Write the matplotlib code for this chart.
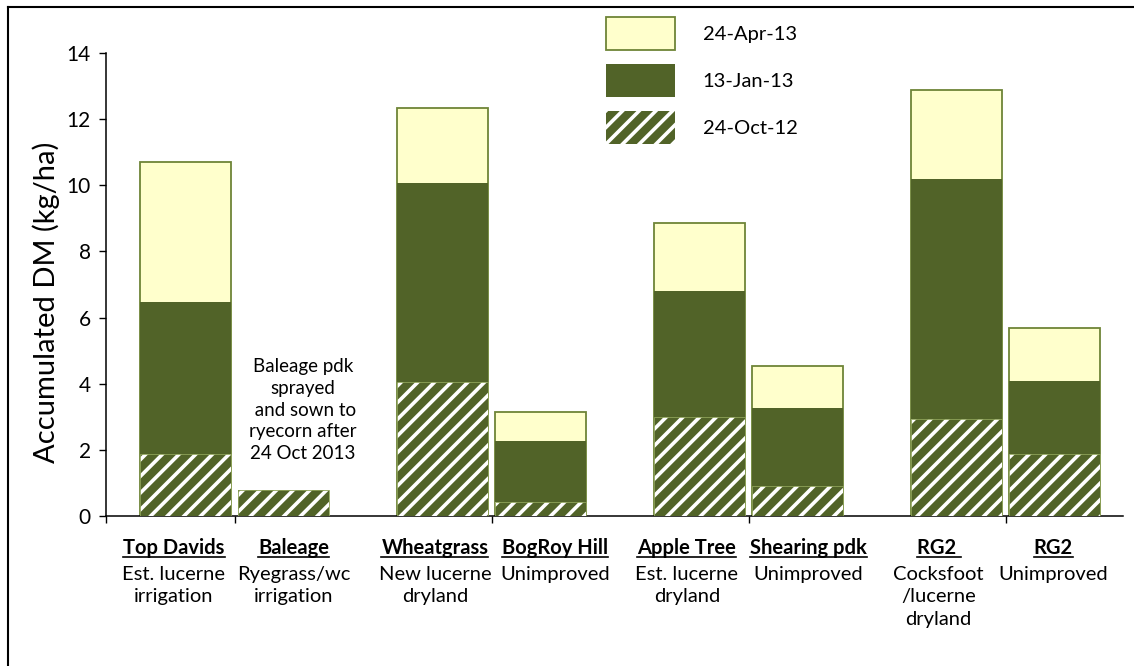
import matplotlib
matplotlib.use("Agg")
import matplotlib.pyplot as plt
from matplotlib.patches import Patch
from matplotlib.lines import Line2D
import numpy as np

plt.rcParams['font.family'] = ['Lato', 'DejaVu Sans']
plt.rcParams['hatch.linewidth'] = 2.6

# data (accumulated DM at each date)
names = ["Top Davids", "Baleage", "Wheatgrass", "BogRoy Hill",
         "Apple Tree", "Shearing pdk", "RG2 ", "RG2"]
descs = ["Est. lucerne\nirrigation", "Ryegrass/wc\nirrigation",
         "New lucerne\ndryland", "Unimproved",
         "Est. lucerne\ndryland", "Unimproved",
         "Cocksfoot\n/lucerne\ndryland", "Unimproved"]
oct12 = [1.88, 0.80, 4.04, 0.43, 2.98, 0.92, 2.92, 1.88]
jan13 = [6.47, 0.0, 10.06, 2.27, 6.80, 3.26, 10.20, 4.07]
apr13 = [10.70, 0.0, 12.33, 3.15, 8.85, 4.55, 12.88, 5.69]
series_labels = ["24-Apr-13", "13-Jan-13", "24-Oct-12"]

# label block nudges from the bar centres (axis units)
label_shift = [-0.046, 0.04, -0.03, 0.058, -0.05, 0.043, -0.07, -0.004]

light = "#FFFFCC"
dark = "#516328"
edge = "#6E8537"

fig = plt.figure(figsize=(11.34, 6.66), dpi=100)
ax = fig.add_axes([106/1134, 1-516/666, (1123-106)/1134, (516-53)/666])

# bar positions: pairs around group centres
grp = np.repeat(np.arange(4) + 0.5, 2)
off = np.tile([-0.19, 0.19], 4)
xpos = grp + off
w = 0.355

ax.bar(xpos, apr13, w, color=light, edgecolor=edge, linewidth=1.3, zorder=2)
ax.bar(xpos, jan13, w, color=dark, linewidth=0, zorder=3)
ax.bar(xpos, oct12, w, color=dark, edgecolor="white", hatch="//",
       linewidth=0, zorder=4)
ax.bar(xpos, oct12, w, fill=False, edgecolor="#8FA35A", linewidth=0.6, zorder=5)

ax.set_xlim(0, 3.957)
ax.set_ylim(0, 14)
ax.set_yticks(range(0, 15, 2))
ax.set_xticks([0, 0.5, 1.5, 2.5, 3.5])
ax.set_xticklabels([])
for s in ["top", "right"]:
    ax.spines[s].set_visible(False)
for s in ["left", "bottom"]:
    ax.spines[s].set_linewidth(1.1)
ax.tick_params(direction="out", length=5, width=1, labelsize=15, pad=6)
ax.set_ylabel("Accumulated DM (kg/ha)", fontsize=21, labelpad=3)
ax.yaxis.set_label_coords(-0.045, 0.462)

ax.text(0.767, 3.2, "Baleage pdk\nsprayed\n and sown to\nryecorn after\n24 Oct 2013",
        ha="center", va="center", fontsize=13.5, linespacing=1.34)

# category labels under the axis
tr = ax.get_xaxis_transform()
name_txt = []
for x, dx, n, d in zip(xpos, label_shift, names, descs):
    t = ax.text(x + dx, -0.07, n, transform=tr, ha="center", va="center",
                fontsize=14.5, fontweight="bold")
    name_txt.append(t)
    ax.text(x + dx, -0.107, d, transform=tr, ha="center", va="top",
            fontsize=14.5, linespacing=1.4)

handles = [Patch(facecolor=light, edgecolor=edge, linewidth=1.3),
           Patch(facecolor=dark, linewidth=0),
           Patch(facecolor=dark, edgecolor="white", hatch="//", linewidth=0)]
fig.legend(handles, series_labels, loc="upper left",
           bbox_to_anchor=(606/1134, 1-17/666), frameon=False, fontsize=14.5,
           handlelength=3.45, handleheight=2.14, labelspacing=0.7,
           handletextpad=1.35, borderpad=0, borderaxespad=0)

# underline the names
fig.canvas.draw()
r = fig.canvas.get_renderer()
for t in name_txt:
    bb = t.get_window_extent(r)
    y = (bb.y0 + 1) / fig.bbox.height
    fig.add_artist(Line2D([bb.x0 / fig.bbox.width, bb.x1 / fig.bbox.width], [y, y],
                          color="black", linewidth=1.2))

# outer chart border (top and left visible)
fig.add_artist(Line2D([8/1134, 1], [1-7/666, 1-7/666], color="black", linewidth=1.5))
fig.add_artist(Line2D([8/1134, 8/1134], [0, 1-7/666], color="black", linewidth=1.5))

fig.savefig("out.png", dpi=100)
